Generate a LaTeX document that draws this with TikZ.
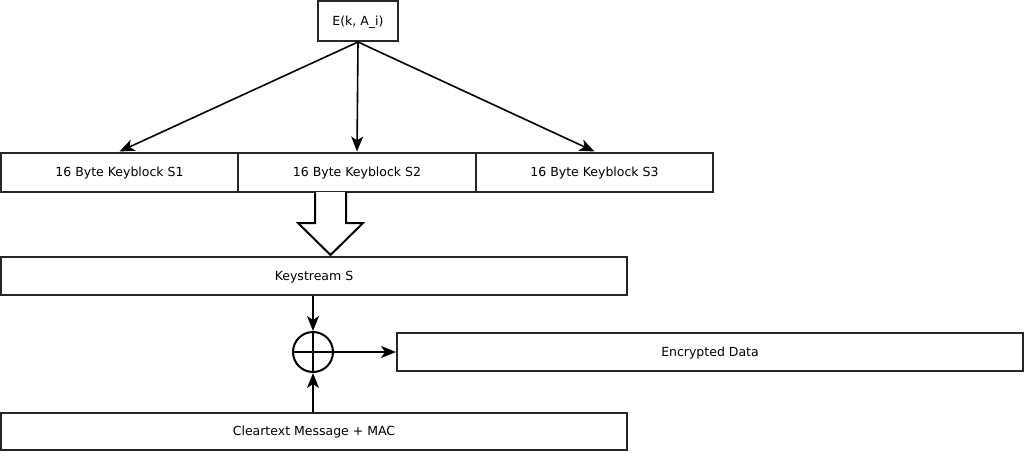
\documentclass[tikz,border=0pt]{standalone}
\usepackage{fontspec}
\setmainfont{DejaVu Sans}
\usetikzlibrary{arrows.meta}
\begin{document}
\begin{tikzpicture}[x=1pt,y=-1pt,
  every node/.style={font=\fontsize{12.5}{14}\selectfont},
  box/.style={draw=black!85,line width=2pt,inner sep=0pt,fill=white,text depth=0pt},
  arr/.style={line width=1.6pt,-{Stealth[length=15pt,width=12pt,inset=4pt]}},
  xorc/.style={draw=black,line width=2pt,circle,minimum size=40pt,inner sep=0pt}
]
\useasboundingbox (0,0) rectangle (1027,452);
\fill[white] (0,0) rectangle (1027,452);

\node[box,minimum width=80pt,minimum height=40pt] (E) at (358,21) {E(k, A\_i)};

\node[box,minimum width=237pt,minimum height=39pt] (s1) at (119.5,172) {16 Byte Keyblock S1};
\node[box,minimum width=238pt,minimum height=39pt] (s2) at (357,172) {16 Byte Keyblock S2};
\node[box,minimum width=237pt,minimum height=39pt] (s3) at (594.5,172) {16 Byte Keyblock S3};

\node[box,minimum width=626pt,minimum height=38pt] (ks) at (314,276) {Keystream S};
\node[box,minimum width=626pt,minimum height=37pt] (ct) at (314,431) {Cleartext Message + MAC};
\node[box,minimum width=626pt,minimum height=38pt] (enc) at (710,352) {Encrypted Data};

\node[xorc] (x) at (313,352) {};
\draw[line width=1.6pt] (x.north) -- (x.south) (x.west) -- (x.east);

\draw[arr] (E.south) -- (s1.north);
\draw[arr] (E.south) -- (s2.north);
\draw[arr] (E.south) -- (s3.north);

\draw[arr] (ks.south -| x.north) -- (x.north);
\draw[arr] (ct.north -| x.south) -- (x.south);
\draw[arr] (x.east) -- (enc.west);

% hollow block arrow
\draw[line width=2pt,fill=white,line join=miter]
  (315,192) -- (315,223) -- (298,223) -- (330.5,255) -- (363,223) -- (346,223) -- (346,192);
\end{tikzpicture}
\end{document}
